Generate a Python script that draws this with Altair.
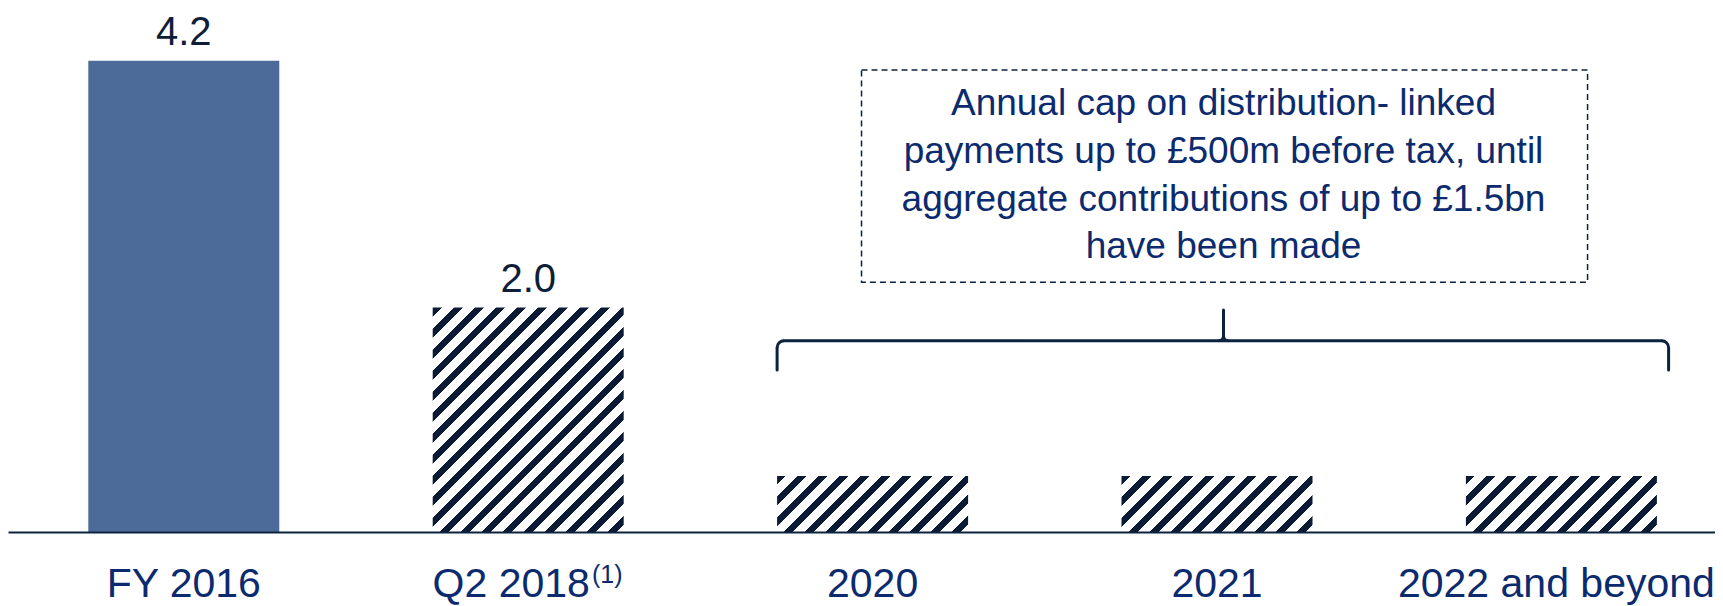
import math
import altair as alt
import pandas as pd

# ---- data ----
categories = ["FY 2016", "Q2 2018", "2020", "2021", "2022 and beyond"]
footnotes = ["", "(1)", "", "", ""]
values = [4.2, 2.0, 0.5, 0.5, 0.5]
value_labels = ["4.2", "2.0", "", "", ""]
hatched = [False, True, True, True, True]
note_lines = [
    "Annual cap on distribution- linked",
    "payments up to £500m before tax, until",
    "aggregate contributions of up to £1.5bn",
    "have been made",
]

df = pd.DataFrame({"cat": categories, "value": values, "foot": footnotes,
                   "label": value_labels, "hatched": hatched})

# ---- layout / style ----
FONT = "Liberation Sans"
NAVY = "#0c2340"
TEXT_BLUE = "#0b2b6e"
VALUE_COL = "#0e1d38"
SOLID = "#4d6b98"
STRIPE = "#0b1b36"

W, H = 1707, 524
PX_PER_UNIT = 112.2
Y_MAX = H / PX_PER_UNIT
STEP, BW = 344.4, 191.0
P_INNER = 1 - BW / STEP
P_OUTER = (W / STEP - 5 + P_INNER) / 2
ALIGN = 80.3 / (W - STEP * (5 - P_INNER))
LABEL_SIZE = 41
LABEL_PAD = 64
BRACE_OVERHANG = 11.7   # brace extends past the last bar (px)
R_CORNER = 7            # brace corner radius (px)
R_CUSP = 5              # brace middle cusp radius (px)
SW = 3                  # brace stroke width


def hatch(v, period=21.0, frac=0.42):
    w, h = BW, v * PX_PER_UNIT
    s = (w * w + h * h) / (w + h)
    n = (w + h) / period
    stops = []
    k = 0
    while k < n:
        pts = [(k / n, STRIPE), ((k + frac) / n, STRIPE),
               ((k + frac) / n, "#ffffff"), ((k + 1) / n, "#ffffff")]
        for o, c in pts:
            stops.append({"offset": min(o, 1.0), "color": c})
        k += 1
    return {"gradient": "linear", "x1": 0, "y1": 0, "x2": w / s, "y2": h / s,
            "stops": stops}


xscale = alt.Scale(domain=categories, paddingInner=P_INNER,
                   paddingOuter=P_OUTER, align=ALIGN)
yscale = alt.Scale(domain=[0, Y_MAX], nice=False)

label_offset = {"condition": [
    {"test": f"datum.value === '{categories[1]}'", "value": -17},
    {"test": f"datum.value === '{categories[-1]}'", "value": -5},
], "value": 0}

x_enc = alt.X("cat:N", sort=categories, scale=xscale,
              axis=alt.Axis(title=None, ticks=False, tickSize=0,
                            labelFont=FONT, labelFontSize=LABEL_SIZE,
                            labelColor=TEXT_BLUE, labelPadding=LABEL_PAD,
                            labelBaseline="alphabetic", labelAngle=0,
                            labelLimit=0, labelOverlap=False,
                            labelOffset=label_offset,
                            domainColor=NAVY, domainWidth=2, zindex=1))
y_enc = alt.Y("value:Q", scale=yscale, axis=None)

base = alt.Chart(df).encode(x=x_enc, y=y_enc)

solid = base.transform_filter("!datum.hatched").mark_bar(color=SOLID)
hatch_layers = []
for v in sorted(set(val for val, hh in zip(values, hatched) if hh)):
    hatch_layers.append(
        base.transform_filter(f"datum.hatched && datum.value == {v}")
        .mark_bar(fill=hatch(v), strokeWidth=0)
    )

value_text = base.mark_text(font=FONT, fontSize=40, color=VALUE_COL,
                            baseline="alphabetic", dy=-16).encode(text="label:N")

# superscript footnote marker next to the category label
foot_text = alt.Chart(df).mark_text(
    font=FONT, fontSize=25, color=TEXT_BLUE, baseline="alphabetic",
    align="center", xOffset=79, dy=LABEL_PAD - 13.5).encode(
    x=alt.X("cat:N", sort=categories, scale=xscale),
    y=alt.YDatum(0, type="quantitative"),
    text="foot:N")

one = pd.DataFrame({"k": [0]})

box = alt.Chart(one).mark_rect(filled=False, stroke=NAVY, strokeWidth=1.5,
                               strokeDash=[6, 4]).encode(
    x=alt.XDatum("2020", type="nominal", bandPosition=0.442),
    x2=alt.X2Datum("2022 and beyond", bandPosition=0.637),
    y=alt.YDatum(4.118, type="quantitative"),
    y2=alt.Y2Datum(2.226),
)

note = alt.Chart(one).mark_text(text=note_lines, font=FONT, fontSize=37,
                                lineHeight=47.8, color=TEXT_BLUE,
                                align="center", baseline="alphabetic").encode(
    x=alt.XDatum("2021", type="nominal", bandPosition=0.534),
    y=alt.YDatum(3.717, type="quantitative"),
)

# ---- curly brace over 2020..2022 ----
BR_Y, BR_TOP, BR_END = 1.705, 1.979, 1.444
L_CAT, L_BP = "2020", 0.0
R_CAT, R_BP = "2022 and beyond", 1.0
C_CAT, C_BP = "2021", 0.534
rule_kw = dict(color=NAVY, strokeWidth=SW, strokeCap="round")


def xd(cat, bp):
    return alt.XDatum(cat, type="nominal", bandPosition=bp)


def yd(v):
    return alt.YDatum(v, type="quantitative")


brace_h = alt.Chart(one).mark_rule(xOffset=R_CORNER,
                                   x2Offset=BRACE_OVERHANG - R_CORNER,
                                   **rule_kw).encode(
    x=xd(L_CAT, L_BP), x2=alt.X2Datum(R_CAT, bandPosition=R_BP), y=yd(BR_Y))
brace_l = alt.Chart(one).mark_rule(y2Offset=R_CORNER, **rule_kw).encode(
    x=xd(L_CAT, L_BP), y=yd(BR_END), y2=alt.Y2Datum(BR_Y))
brace_r = alt.Chart(one).mark_rule(xOffset=BRACE_OVERHANG, y2Offset=R_CORNER,
                                   **rule_kw).encode(
    x=xd(R_CAT, R_BP), y=yd(BR_END), y2=alt.Y2Datum(BR_Y))
brace_c = alt.Chart(one).mark_rule(y2Offset=-R_CUSP, **rule_kw).encode(
    x=xd(C_CAT, C_BP), y=yd(BR_TOP), y2=alt.Y2Datum(BR_Y))


def arc(cat, bp, dx, dy, r, t0, t1):
    return alt.Chart(one).mark_arc(
        theta=t0, theta2=t1, radius=r + SW / 2, radius2=r - SW / 2,
        color=NAVY, xOffset=dx, yOffset=dy).encode(x=xd(cat, bp), y=yd(BR_Y))


PI = math.pi
arcs = [
    arc(L_CAT, L_BP, R_CORNER, R_CORNER, R_CORNER, 1.5 * PI, 2 * PI),
    arc(R_CAT, R_BP, BRACE_OVERHANG - R_CORNER, R_CORNER, R_CORNER, 0, 0.5 * PI),
    arc(C_CAT, C_BP, -R_CUSP, -R_CUSP, R_CUSP, 0.5 * PI, PI),
    arc(C_CAT, C_BP, R_CUSP, -R_CUSP, R_CUSP, PI, 1.5 * PI),
]

chart = alt.layer(solid, *hatch_layers, value_text, foot_text, box, note,
                  brace_h, brace_l, brace_r, brace_c, *arcs).properties(
    width=W, height=H,
    autosize=alt.AutoSizeParams(type="none"),
    padding={"left": 0, "top": 0, "right": 0, "bottom": 74},
    background="white",
).configure_view(stroke=None)

chart.save("out.html", embed_options={"renderer": "svg", "actions": False})
